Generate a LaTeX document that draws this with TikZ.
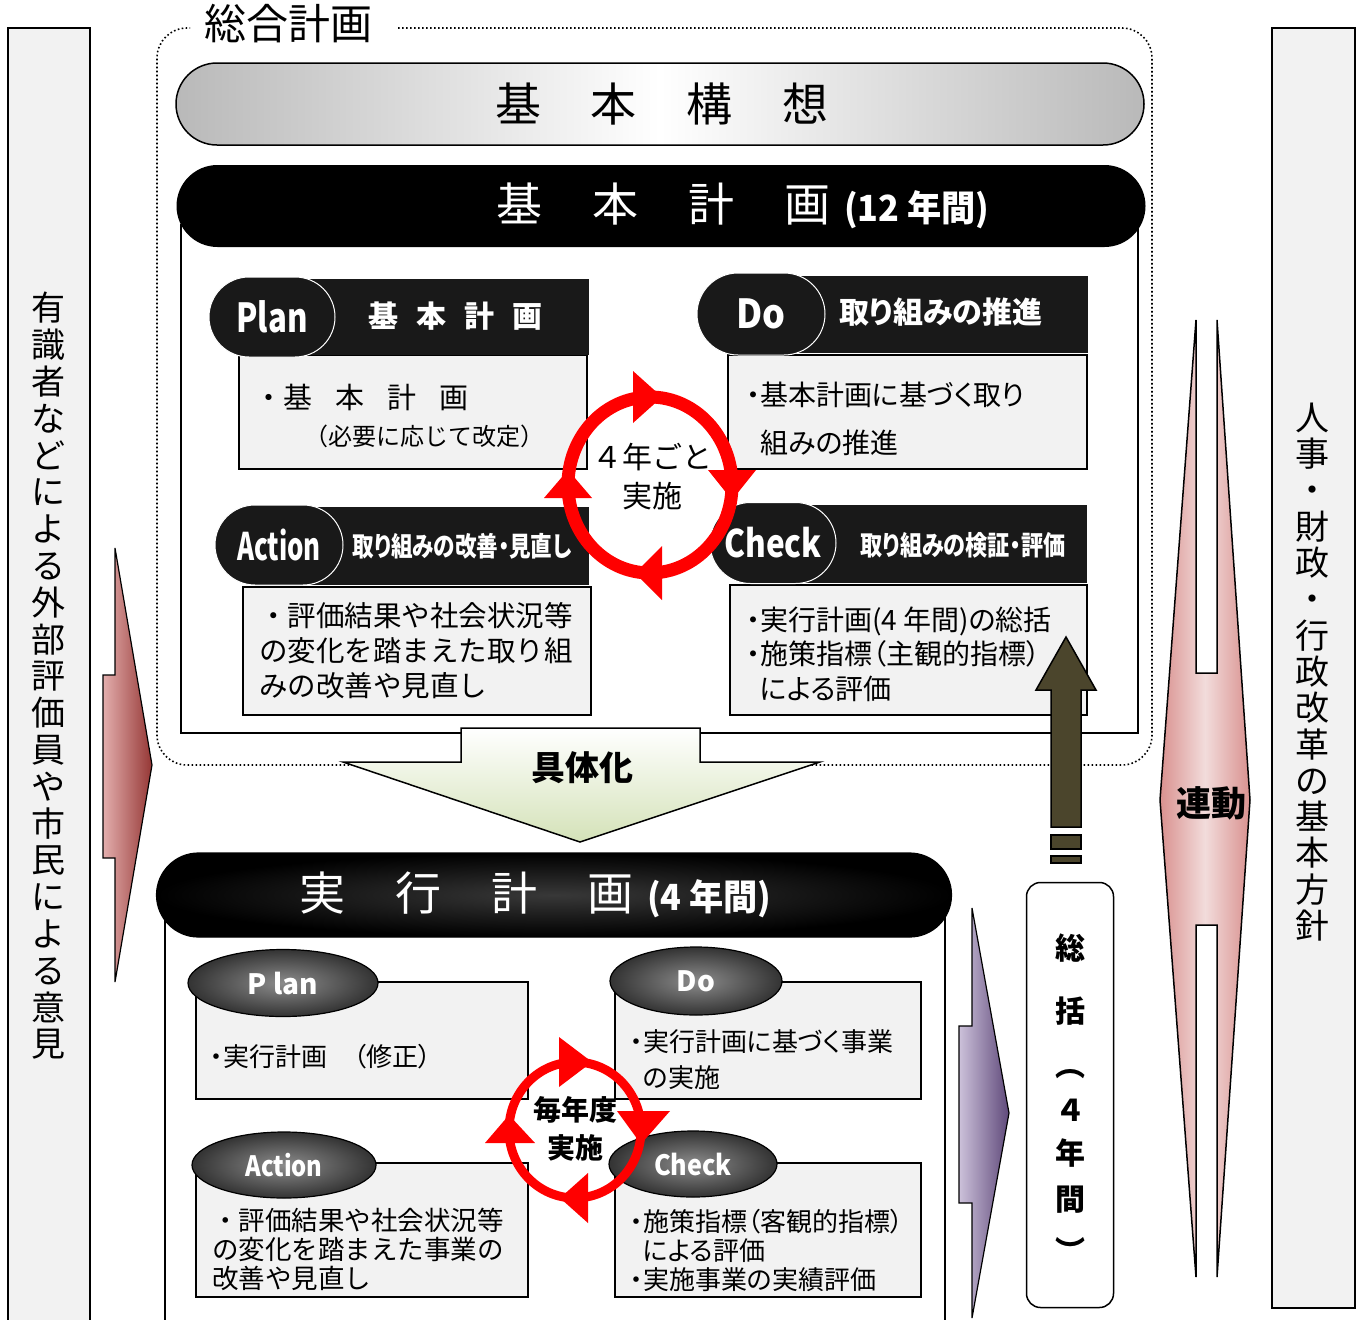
\documentclass[tikz,border=0pt]{standalone}
\usepackage{graphicx}
\usepackage{fontspec}
\setmainfont{Noto Sans CJK JP}
\newfontfamily\propjp[CharacterWidth=AlternateProportional]{Noto Sans CJK JP}
\usepackage{xcolor}
\usetikzlibrary{positioning,shapes.geometric,shapes.misc}
\definecolor{cardgray}{HTML}{F2F2F2}
\definecolor{arrowolive}{HTML}{4B452C}
\definecolor{pinklt}{HTML}{E3AEAD}
\definecolor{pinkdk}{HTML}{953735}
\definecolor{lavlt}{HTML}{CCC1DA}
\definecolor{lavdk}{HTML}{5F497A}
\definecolor{roseedge}{HTML}{D9918F}
\definecolor{rosemid}{HTML}{F2DCDB}
\definecolor{greenlt}{HTML}{D4E2B8}
\newcommand{\fsz}[2]{\fontsize{#1}{#2}\selectfont}
\newcommand{\wgap}{\hspace{50pt}}
\tikzset{%
	sidebox/.style  = {draw, fill=cardgray, line width=1.2pt},
	framebox/.style = {draw, fill=white, line width=1.5pt},
	cardbody/.style = {draw, fill=cardgray, line width=1.5pt},
	hdrbar/.style   = {fill=black!90},
	hdrtag/.style   = {rounded rectangle, fill=black!90, draw=white, line width=1pt, inner sep=0pt, text=white},
	ovaltag/.style  = {ellipse, draw, line width=1.2pt, inner color=black!45, outer color=black!80, inner sep=0pt, text=white, font=\fsz{28}{28}\bfseries},
	bodytxt/.style  = {anchor=west, align=left, inner sep=0pt},
	cyclering/.style= {draw=red, line width=13pt},
	sumchar/.style  = {inner sep=0pt, font=\fsz{30}{30}\bfseries},
}

\begin{document}
\begin{tikzpicture}[x=1pt, y=-1pt]
	\useasboundingbox (0,0) rectangle (1363,1320);
	% side columns
	\draw[sidebox] (8,28) rectangle (90,1330);
	\draw[sidebox] (1272,28) rectangle (1355,1308);
	\node[align=center, font=\fsz{34}{36.8}] (opinionTxt) at (48,676) {有\\識\\者\\な\\ど\\に\\よ\\る\\外\\部\\評\\価\\員\\や\\市\\民\\に\\よ\\る\\意\\見};
	\node[align=center, font=\fsz{34}{36.3}] (policyTxt) at (1312,672) {人\\事\\・\\財\\政\\・\\行\\政\\改\\革\\の\\基\\本\\方\\針};
	
	% total plan frame
	\draw[dash pattern=on 1.6pt off 2.4pt, line width=1.6pt, rounded corners=30pt] (398,28) -- (1152,28) -- (1152,765) -- (157,765) -- (157,28) -- (190,28);
	\node[font=\fsz{42}{42}] (planTitle) at (288,24) {総合計画};
	\draw[framebox] (181,225) rectangle (1138,733);
	\node[rounded rectangle, draw, line width=1.5pt, left color=gray!55, right color=gray!55, middle color=white, minimum width=968pt, minimum height=82pt, inner sep=0pt] (visionPill) at (660,104) {};
	\node[font=\fsz{46}{46}] (visionTxt) at (662,104) {基\wgap 本\wgap 構\wgap 想};
	\node[rounded rectangle, fill=black, minimum width=969pt, minimum height=82pt, inner sep=0pt] (basicPill) at (661,206) {};
	\node[anchor=west, text=white, inner sep=0pt] (basicTxt) at (496,206) {\fsz{46}{46}基\wgap 本\wgap 計\wgap 画\hspace{14pt}\fsz{36}{36}\bfseries\scalebox{0.95}[1]{(12 年間)}};
	
	% Plan
	\draw[cardbody] (239,355) rectangle (587,469);
	\fill[hdrbar] (300,279) rectangle (589,355);
	\node[hdrtag, minimum width=126pt, minimum height=80pt, font=\fsz{40}{40}\bfseries] (planTag) at (272,317) {\scalebox{0.78}[1]{Plan}};
	\node[text=white, font=\fsz{30}{30}\bfseries] (planHdr) at (455,316) {基\hspace{18pt}本\hspace{18pt}計\hspace{18pt}画};
	\node[bodytxt, font=\fsz{29}{29}] (planBody) at (254,397) {・基\hspace{23pt}本\hspace{23pt}計\hspace{23pt}画};
	\node[bodytxt, font=\fsz{24}{24}] (planNote) at (304,436) {（必要に応じて改定）};
	% Do
	\draw[cardbody] (728,355) rectangle (1087,469);
	\fill[hdrbar] (790,276) rectangle (1088,353);
	\node[hdrtag, minimum width=128pt, minimum height=82pt, font=\fsz{40}{40}\bfseries] (doTag) at (761,314) {\scalebox{0.9}[1]{Do}};
	\node[text=white, font=\propjp\fsz{30}{30}\bfseries] (doHdr) at (941,312) {取り組みの推進};
	\node[bodytxt, font=\propjp\fsz{28}{48}] (doBody) at (746,419) {・基本計画に基づく取り\\\hspace{14pt}組みの推進};
	% Action
	\draw[cardbody] (243,587) rectangle (591,715);
	\fill[hdrbar] (310,507) rectangle (589,585);
	\node[hdrtag, minimum width=128pt, minimum height=80pt, font=\fsz{38}{38}\bfseries] (actTag) at (279,545) {\scalebox{0.68}[1]{Action}};
	\node[text=white, font=\propjp\fsz{27}{27}\bfseries] (actHdr) at (462,546) {\scalebox{0.8}[1]{取り組みの改善・見直し}};
	\node[bodytxt, font=\fsz{28.5}{35}] (actBody) at (259,651) {・評価結果や社会状況等\\の変化を踏まえた取り組\\みの改善や見直し};
	% Check
	\draw[cardbody] (730,585) rectangle (1087,715);
	\fill[hdrbar] (790,505) rectangle (1087,583);
	\node[hdrtag, minimum width=126pt, minimum height=81pt, font=\fsz{38}{38}\bfseries] (chkTag) at (773,543) {\scalebox{0.83}[1]{Check}};
	\node[text=white, font=\propjp\fsz{27}{27}\bfseries] (chkHdr) at (963,545) {\scalebox{0.82}[1]{取り組みの検証・評価}};
	\node[bodytxt, font=\propjp\fsz{28}{34.5}] (chkBody) at (746,654) {・実行計画(4 年間)の総括\\・施策指標（主観的指標）\\\hspace{14pt}による評価};
	
	% 4-year cycle
	\draw[cyclering] (650,485) ellipse [x radius=82, y radius=88];
	\begin{scope}[shift={(650,485)}]
	\fill[red] (-17,-114) -- (-17,-62) -- (12,-88) -- cycle;
	\fill[red] (58,-15) -- (106,-15) -- (82,15) -- cycle;
	\fill[red] (12,61) -- (12,115) -- (-15,88) -- cycle;
	\fill[red] (-106,13) -- (-58,13) -- (-82,-15) -- cycle;
	\end{scope}
	\node[align=center, font=\fsz{30}{39}] (cycleFour) at (652,477) {４年ごと\\実施};
	
	% concretize arrow
	\draw[line width=1.5pt, top color=white, bottom color=greenlt] (461,728) -- (700,728) -- (700,762) -- (820,762) -- (580,842) -- (343,762) -- (461,762) -- cycle;
	\node[font=\fsz{34}{34}\bfseries] (concreteTxt) at (582,768) {具体化};
	
	% implementation plan
	\draw[framebox] (165,915) rectangle (945,1330);
	\node[rounded rectangle, draw, line width=1.2pt, inner color=black!78, outer color=black, minimum width=795pt, minimum height=84pt, inner sep=0pt] (execPill) at (554,895) {};
	\node[anchor=west, text=white, inner sep=0pt] (execTxt) at (299,895) {\fsz{46}{46}実\wgap 行\wgap 計\wgap 画\hspace{14pt}\fsz{36}{36}\bfseries\scalebox{0.95}[1]{(4 年間)}};
	
	\draw[cardbody] (196,982) rectangle (528,1099);
	\node[ovaltag, minimum width=190pt, minimum height=67pt] (planOval) at (283,983) {P lan};
	\node[bodytxt, font=\propjp\fsz{26}{26}] (planOvalBody) at (210,1057) {・実行計画　（修正）};
	\draw[cardbody] (615,982) rectangle (921,1099);
	\node[ovaltag, minimum width=172pt, minimum height=68pt] (doOval) at (696,981) {Do};
	\node[bodytxt, font=\propjp\fsz{26}{36}] (doOvalBody) at (630,1060) {・実行計画に基づく事業\\\hspace{13pt}の実施};
	\draw[cardbody] (196,1163) rectangle (528,1297);
	\node[ovaltag, minimum width=184pt, minimum height=66pt] (actOval) at (284,1165) {\scalebox{0.85}[1]{Action}};
	\node[bodytxt, font=\fsz{26.5}{29}] (actOvalBody) at (212,1249) {・評価結果や社会状況等\\の変化を踏まえた事業の\\改善や見直し};
	\draw[cardbody] (615,1163) rectangle (921,1297);
	\node[ovaltag, minimum width=168pt, minimum height=66pt] (chkOval) at (693,1164) {\scalebox{0.9}[1]{Check}};
	\node[bodytxt, font=\propjp\fsz{26}{29}] (chkOvalBody) at (630,1250) {・施策指標（客観的指標）\\\hspace{13pt}による評価\\・実施事業の実績評価};
	
	% yearly cycle
	\draw[cyclering, line width=9pt] (575,1130) ellipse [x radius=66, y radius=68];
	\begin{scope}[shift={(575,1130)}]
	\fill[red] (-16,-93) -- (-16,-43) -- (17,-68) -- cycle;
	\fill[red] (42,-19) -- (95,-19) -- (66,14) -- cycle;
	\fill[red] (13,43) -- (13,93) -- (-15,68) -- cycle;
	\fill[red] (-90,13) -- (-40,13) -- (-66,-15) -- cycle;
	\end{scope}
	\node[align=center, font=\fsz{28}{38}\bfseries] (cycleYear) at (575,1129) {毎年度\\実施};
	
	% side arrows
	\draw[line width=1.2pt, left color=pinklt, right color=pinkdk] (115,548) -- (152,765) -- (115,982) -- (115,858) -- (103,858) -- (103,675) -- (115,675) -- cycle;
	\draw[line width=1.2pt, left color=lavlt, right color=lavdk] (972,908) -- (1009,1113) -- (972,1318) -- (972,1203) -- (959,1203) -- (959,1026) -- (972,1026) -- cycle;
	\draw[line width=1.5pt, left color=roseedge, right color=roseedge, middle color=rosemid] (1196,320) -- (1160,800) -- (1196,1277) -- (1196,925) -- (1217,925) -- (1217,1277) -- (1250,800) -- (1217,320) -- (1217,673) -- (1196,673) -- cycle;
	\node[font=\fsz{35}{35}\bfseries] (linkTxt) at (1211,803) {連動};
	
	% summary
	\draw[line width=1.5pt, fill=arrowolive] (1051,827) -- (1051,690) -- (1036,690) -- (1066,637) -- (1096,690) -- (1081,690) -- (1081,827) -- cycle;
	\draw[line width=1.5pt, fill=arrowolive] (1051,835) rectangle (1081,849);
	\draw[line width=1.5pt, fill=arrowolive] (1051,856) rectangle (1081,863);
	\node[draw, line width=1.5pt, rounded corners=14pt, fill=white, minimum width=87pt, minimum height=425pt, inner sep=0pt] (summaryBox) at (1070,1095) {};
	\foreach \ch/\yy in {総/948, 括/1011, ︵/1074, ４/1110, 年/1153, 間/1200, ︶/1250}
		\node[sumchar] (sum\yy) at (1070,\yy) {\ch};
\end{tikzpicture}
\end{document}
